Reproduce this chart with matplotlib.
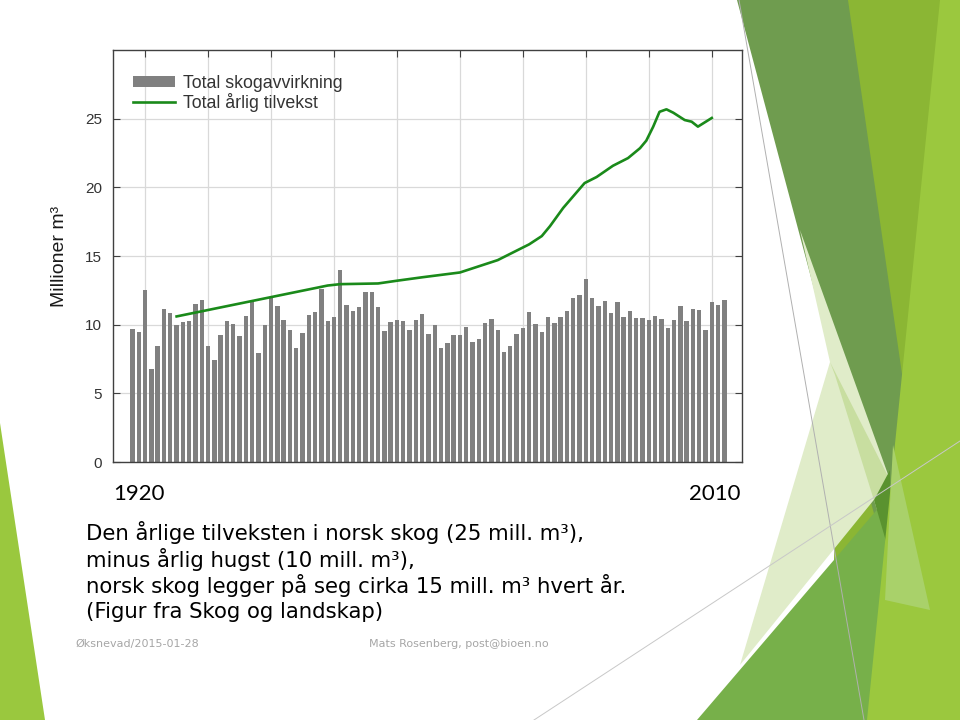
import matplotlib
matplotlib.use("Agg")
import matplotlib.pyplot as plt
from matplotlib.patches import Polygon, Patch
from matplotlib.lines import Line2D

# --- data ---
years = list(range(1918, 2013))
avvirkning = [
    9.68, 9.44, 12.53, 6.74, 8.44, 11.12, 10.83, 9.95, 10.22, 10.24,
    11.5, 11.78, 8.44, 7.45, 9.22, 10.24, 10.05, 9.15, 10.6, 11.73,
    7.93, 9.98, 11.97, 11.34, 10.36, 9.59, 8.27, 9.37, 10.68, 10.92,
    12.58, 10.29, 10.54, 13.99, 11.46, 11.02, 11.31, 12.41, 12.41, 11.31,
    9.51, 10.22, 10.34, 10.29, 9.64, 10.36, 10.78, 9.29, 9.95, 8.27,
    8.69, 9.27, 9.27, 9.83, 8.76, 8.93, 10.12, 10.39, 9.61, 7.98,
    8.47, 9.34, 9.76, 10.95, 10.07, 9.49, 10.54, 10.12, 10.54, 11.0,
    11.92, 12.19, 13.33, 11.97, 11.34, 11.75, 10.83, 11.65, 10.58, 10.97,
    10.46, 10.51, 10.34, 10.63, 10.41, 9.76, 10.32, 11.39, 10.24, 11.17,
    11.07, 9.61, 11.63, 11.44, 11.78,
]
tilvekst_aar = [1925, 1949, 1951, 1957, 1960, 1964, 1970, 1976, 1981, 1983,
                1984.3, 1986.4, 1989.8, 1991.7, 1994.3, 1996.7, 1998.6, 1999.6,
                2000.7, 2001.7, 2002.8, 2003.9, 2005.7, 2006.8, 2007.8, 2010]
tilvekst = [10.6, 12.85, 12.95, 13.0, 13.2, 13.45, 13.8, 14.7, 15.85, 16.45,
            17.17, 18.5, 20.31, 20.75, 21.57, 22.13, 22.85, 23.4,
            24.42, 25.5, 25.68, 25.43, 24.9, 24.78, 24.42, 25.05]

decades = list(range(1920, 2011, 10))
yticks = [0, 5, 10, 15, 20, 25]

tekst = [
    "Den årlige tilveksten i norsk skog (25 mill. m³),",
    "minus årlig hugst (10 mill. m³),",
    "norsk skog legger på seg cirka 15 mill. m³ hvert år.",
    "(Figur fra Skog og landskap)",
]

W, H = 960, 720
fig = plt.figure(figsize=(9.6, 7.2), dpi=100, facecolor="white")

# --- slide background decorations (pixel coords, y down) ---
bg = fig.add_axes([0, 0, 1, 1], zorder=0)
bg.set_xlim(0, W)
bg.set_ylim(H, 0)
bg.axis("off")

shapes = [
    ([(848, 0), (960, 0), (960, 720), (830, 720)], "#8bb634"),
    ([(737, 0), (848, 0), (952, 720), (929, 720)], "#6f9c4f"),
    ([(800, 230), (890, 480), (740, 665), (830, 362)], "#e0ecc9"),
    ([(830, 362), (890, 480), (877, 510), (835, 375)], "#c8dea0"),
    ([(697, 720), (905, 477), (960, 720)], "#77b04a"),
    ([(874, 500), (890, 470), (890, 555)], "#5a922f"),
    ([(940, 0), (960, 0), (960, 720), (867, 720)], "#9bc83e"),
    ([(893, 445), (930, 610), (885, 600)], "#a9d16a"),
    ([(0, 423), (45, 720), (0, 720)], "#9ac83e"),
]
for pts, col in shapes:
    bg.add_patch(Polygon(pts, closed=True, facecolor=col, edgecolor="none"))

bg.plot([739, 864], [0, 720], color="#b0b0b0", lw=0.7)
bg.plot([534, 960], [720, 441], color="#c8c8c8", lw=0.7)

# --- chart ---
ax = fig.add_axes([113 / W, 1 - 462 / H, 629 / W, 412 / H], zorder=2)
ax.bar(years, avvirkning, width=0.7, color="#808080", zorder=2)
ax.plot(tilvekst_aar, tilvekst, color="#1a8a1a", lw=1.9, zorder=3)

ax.set_xlim(1914.9, 2014.8)
ax.set_ylim(0, 30)
ax.set_xticks(decades)
ax.set_yticks(yticks)
ax.grid(True, color="#d9d9d9", lw=0.9, zorder=0)
ax.set_axisbelow(True)
ax.tick_params(axis="x", direction="in", top=True, bottom=False,
               labelbottom=False, length=5, color="#404040")
ax.tick_params(axis="y", direction="in", left=True, right=True,
               length=5, color="#404040", labelsize=11, labelcolor="#333333",
               pad=8)
for lab in ax.get_yticklabels():
    lab.set_fontfamily("Liberation Sans")
for s in ax.spines.values():
    s.set_color("#404040")
    s.set_linewidth(1.0)

ax.set_ylabel("Millioner m³", family="Liberation Sans", fontsize=14,
              color="#1a1a1a", labelpad=12)

handles = [Patch(facecolor="#808080", edgecolor="none"),
           Line2D([0], [0], color="#1a8a1a", lw=1.9)]
leg = ax.legend(handles, ["Total skogavvirkning", "Total årlig tilvekst"],
                loc="upper left", bbox_to_anchor=(0.0315, 0.940), frameon=False,
                prop={"family": "Liberation Sans", "size": 12.8},
                handlelength=2.36, handleheight=0.62, handletextpad=0.45,
                labelspacing=0.1, borderaxespad=0.0, borderpad=0.0)
for t in leg.get_texts():
    t.set_color("#333333")

# --- slide texts ---
fig.text(113 / W, 1 - 494 / H, "1920", family="Lato", fontsize=16,
         va="center", ha="left", color="black")
fig.text(740 / W, 1 - 494 / H, "2010", family="Lato", fontsize=16,
         va="center", ha="right", color="black")

for i, line in enumerate(tekst):
    fig.text(86 / W, 1 - (533 + 26.3 * i) / H, line, family="DejaVu Sans",
             fontsize=15.3, va="center", ha="left", color="black")

fig.text(75 / W, 1 - 644 / H, "Øksnevad/2015-01-28", family="DejaVu Sans",
         fontsize=8, va="center", ha="left", color="#a6a6a6")
fig.text(369 / W, 1 - 644 / H, "Mats Rosenberg, post@bioen.no",
         family="DejaVu Sans", fontsize=8, va="center", ha="left",
         color="#a6a6a6")

fig.savefig("out.png", dpi=100, facecolor="white")
